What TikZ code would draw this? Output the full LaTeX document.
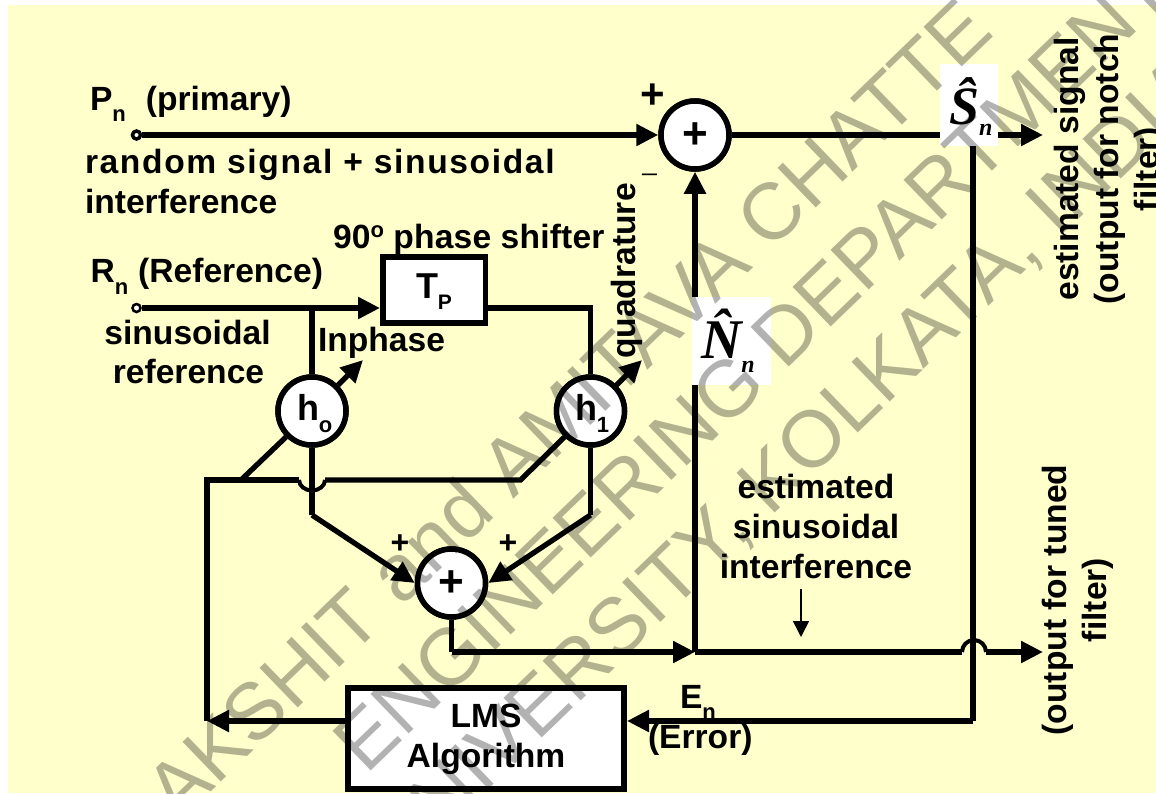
\documentclass[tikz,border=0pt]{standalone}
\usepackage{fontspec}
\setmainfont{Liberation Sans}
\newfontfamily\hatfont{Liberation Serif}
\usetikzlibrary{arrows.meta, positioning, calc}
\definecolor{cPanel}{RGB}{255,255,204}
\newcommand{\subn}[2][22]{\raisebox{-11.5pt}{\fontsize{#1}{#1}\selectfont #2}}
\newcommand{\hatn}[2][-11]{\raisebox{#1pt}{\fontsize{24}{24}\selectfont\hatfont\bfseries\itshape #2}}
\tikzset{
	lbl/.style    ={font=\fontsize{33.6}{40}\selectfont\bfseries, anchor=base west, inner sep=0pt, outer sep=0pt},
	clbl/.style   ={lbl, anchor=base, align=center},
	rlbl/.style   ={font=\fontsize{33.6}{40}\selectfont\bfseries, inner sep=0pt, outer sep=0pt, rotate=90, align=center},
	sumj/.style   ={circle, draw=black, line width=5.5pt, fill=white, minimum size=68pt, inner sep=0pt},
	blk/.style    ={rectangle, draw=black, line width=5.5pt, fill=white, inner sep=0pt},
	term/.style   ={circle, draw=black, line width=2.5pt, fill=white, minimum size=8pt, inner sep=0pt},
	hatbox/.style ={rectangle, fill=white, inner sep=0pt},
	wire/.style   ={line width=5.3pt},
	sig/.style    ={wire, -{Triangle[length=22pt, width=21pt]}},
	plus/.style   ={font=\fontsize{#1}{#1}\selectfont\bfseries, inner sep=0pt},
	wmark/.style  ={font=\fontsize{80}{80}\selectfont, text=black, text opacity=.3, anchor=base west, inner sep=0pt, rotate=44},
}
\begin{document}
\begin{tikzpicture}[x=1pt, y=-1pt]
	\clip (0,0) rectangle (1156,793);
	\fill[white] (0,0) rectangle (1156,793);
	\fill[cPanel] (8,5) rectangle (1156,793);
	% nodes
	\node[sumj] (sum1) at (695,135) {};
	\node[sumj] (sum2) at (451.5,583) {};
	\node[sumj] (h0) at (312,411) {};
	\node[sumj] (h1) at (590.5,411) {};
	\node[blk, minimum width=102.5pt, minimum height=66pt] (tp) at (434,290) {};
	\node[term, line width=3.5pt] (pn) at (136.5,135) {};
	\node[term] (rn) at (136.5,308) {};
	\coordinate (sout) at (1043,135);
	\coordinate (stap) at (973,135);
	\coordinate (nup) at (695,652);
	\coordinate (ncross) at (962,652);
	\coordinate (nout) at (1043,652);
	\coordinate (errc) at (973,721);
	\coordinate (errin) at (627,721);
	\coordinate (lmsout) at (346,721);
	\coordinate (lcorner) at (207,480);
	\coordinate (ltip) at (207,721);
	\coordinate (lhump) at (299,480);
	\coordinate (rbend) at (520.5,480);
	\coordinate (ltap) at (241,480);
	\coordinate (h0foot) at (312,515);
	\coordinate (h1foot) at (590.5,515);
	\coordinate (rtap) at (312,308);
	\coordinate (tpright) at (590.5,308);
	\coordinate (sum2foot) at (451.5,652);
	\coordinate (inph) at (363,360);
	\coordinate (quad) at (642,360);
	% primary path
	\draw[sig] (pn) -- (sum1);
	\draw[sig] (sum1) -- (sout);
	\draw[wire] (stap) -- (errc);
	\draw[sig] (errc) -- (errin);
	% reference path
	\draw[sig] (rn) -- (tp.west |- rn);
	\draw[wire] (rtap) -- (h0);
	\draw[wire] (tp.east |- tpright) -- (tpright) -- (h1);
	\draw[sig] (h0.north east) -- (inph);
	\draw[sig] (h1.north east) -- (quad);
	% weights
	\draw[wire] (h0) -- (h0foot);
	\draw[sig] (h0foot) -- (sum2.west);
	\draw[wire] (h1) -- (h1foot);
	\draw[sig] (h1foot) -- (sum2.east);
	% update lines
	\draw[sig] (lmsout) -- (ltip);
	\draw[wire] (ltip) -- (lcorner) -- (lhump);
	\draw[line width=4pt] (lhump) arc[start angle=180, end angle=0, x radius=13, y radius=10.5];
	\draw[wire] (325,480) -- (rbend) -- (h1.south west);
	\draw[wire] (ltap) -- (h0.south west);
	% output of the lower sum
	\draw[wire] (sum2) -- (sum2foot);
	\draw[sig] (sum2foot) -- (nup);
	\draw[sig] (nup) -- (sum1);
	\draw[wire] (nup) -- (ncross);
	\draw[line width=4pt] (ncross) arc[start angle=180, end angle=360, radius=12];
	\draw[sig] (986,652) -- (nout);
	% redraw the circles over the wires
	\node[sumj] at (h0) {};
	\node[sumj] at (h1) {};
	\node[sumj] at (sum1) {};
	\node[sumj] at (sum2) {};
	\node[blk, minimum width=276pt, minimum height=101pt] (lms) at (486,738.5) {};
	\node[hatbox, minimum width=58pt, minimum height=82pt] (shat) at (969,105) {};
	\node[hatbox, minimum width=79pt, minimum height=88pt] (nhat) at (731.5,341) {};
	% texts
	\node[plus=44] (s1p) at (695,136) {+};
	\node[plus=44] (s2p) at (451.5,584) {+};
	\node[plus=42] (p1) at (653,96) {+};
	\node[plus=32] (p2) at (400,544) {+};
	\node[plus=32] (p3) at (508,544) {+};
	\node[font=\fontsize{26}{26}\selectfont] (m1) at (649.5,173) {\_};
	\node[lbl] (pnl) at (90,110) {P\subn{n}\hspace{20pt}(primary)};
	\node[lbl] (rnd) at (85,173) {\addfontfeature{LetterSpace=4.8}random signal + sinusoidal};
	\node[lbl] (intf) at (85,213) {interference};
	\node[lbl] (psl) at (333,248) {\addfontfeature{LetterSpace=.5}90\raisebox{11pt}{\fontsize{22}{22}\selectfont o} phase shifter};
	\node[lbl] (rnl) at (90.5,282.5) {R\subn{n}\hspace{10pt}(Reference)};
	\node[clbl] (sinl) at (187.5,344) {sinusoidal};
	\node[clbl] (refl) at (188.5,383) {reference};
	\node[lbl] (inl) at (318,351.5) {Inphase};
	\node[rlbl] (qdl) at (627,271) {quadrature};
	\node[lbl, font=\fontsize{36}{40}\selectfont\bfseries] (tpl) at (416,298) {T\subn[21]{P}};
	\node[lbl, font=\fontsize{36}{40}\selectfont\bfseries] (h0l) at (297,420.5) {h\subn{o}};
	\node[lbl, font=\fontsize{36}{40}\selectfont\bfseries] (h1l) at (575,420.5) {h\subn{1}};
	\node[clbl] (el1) at (816,498) {estimated};
	\node[clbl] (el2) at (816,538) {sinusoidal};
	\node[clbl] (el3) at (816,578) {interference};
	\coordinate (earr) at (801,589);
	\coordinate (earrt) at (801,637);
	\draw[line width=1.6pt, -{Triangle[length=16pt, width=16pt]}] (earr) -- (earrt);
	\node[clbl] (lmsa) at (486,727) {LMS};
	\node[clbl] (lmsb) at (486,767) {Algorithm};
	\node[lbl] (enl) at (680,708) {E\subn[22]{n}};
	\node[lbl] (erl) at (648,748.5) {(Error)};
	\node[rlbl] (not) at (1110,169) {estimated signal\\(output for notch\\filter)};
	\node[rlbl] (tun) at (1078,600) {(output for tuned\\filter)};
	\node[lbl] (shl) at (949,124) {\fontsize{54}{54}\selectfont\hatfont\bfseries\itshape\^S\hatn{n}};
	\node[lbl] (nhl) at (701,358) {\fontsize{56}{56}\selectfont\hatfont\bfseries\itshape\^N\hatn[-14.5]{n}};
	% watermark
	\node[wmark] (wm1) at (178,824) {AKSHIT and AMITAVA CHATTE};
	\node[wmark] (wm2) at (366,776) {ENGINEERING DEPARTMENT};
	\node[wmark] (wm3) at (400,875) {UNIVERSITY, KOLKATA, INDIA};
\end{tikzpicture}
\end{document}
